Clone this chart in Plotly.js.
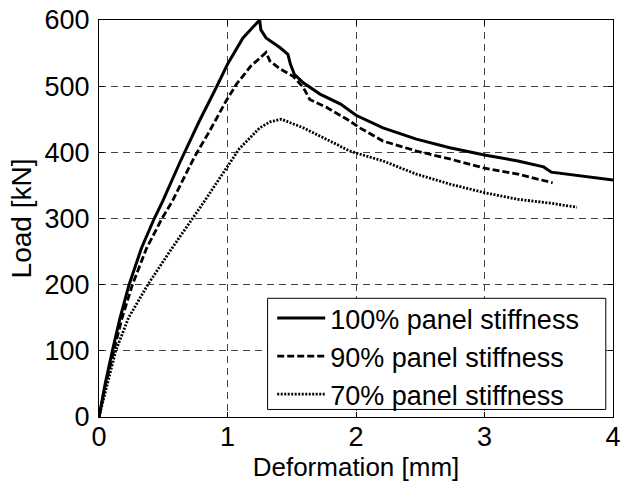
<!DOCTYPE html>
<html>
<head>
<meta charset="utf-8">
<script src="https://cdn.plot.ly/plotly-3.0.1.min.js"></script>
<style>html,body{margin:0;padding:0;background:#fff;}</style>
</head>
<body>
<div id="chart" style="width:621px;height:483px;"></div>
<script>
var seriesNames = ["100% panel stiffness", "90% panel stiffness", "70% panel stiffness"];

var x100 = [0, 0.05, 0.104, 0.164, 0.234, 0.33, 0.43, 0.495, 0.63, 0.78, 0.9, 1.0, 1.12, 1.2, 1.25, 1.26, 1.30, 1.41, 1.47, 1.49, 1.52, 1.59, 1.72, 1.88, 2.0, 2.21, 2.47, 2.73, 3.0, 3.26, 3.46, 3.52, 3.78, 4.0];
var y100 = [0, 52, 100, 150, 200, 255, 300, 326, 385, 447, 493, 533, 573, 590, 600, 585, 573, 558, 548, 533, 518, 505, 488, 473, 456, 437, 420, 407, 396, 387, 378, 370, 363, 358];

var x90 = [0, 0.05, 0.115, 0.18, 0.26, 0.37, 0.49, 0.57, 0.74, 0.86, 0.99, 1.07, 1.18, 1.28, 1.30, 1.33, 1.41, 1.51, 1.59, 1.64, 1.77, 1.93, 2.03, 2.21, 2.47, 2.73, 3.0, 3.26, 3.53];
var y90 = [0, 48, 100, 150, 200, 255, 300, 326, 392, 432, 478, 503, 530, 548, 551, 538, 526, 515, 498, 480, 468, 450, 437, 417, 402, 390, 376, 367, 354];

var x70 = [0, 0.05, 0.13, 0.23, 0.38, 0.55, 0.73, 0.82, 0.96, 1.09, 1.25, 1.33, 1.42, 1.59, 1.85, 1.95, 2.21, 2.47, 2.73, 3.0, 3.26, 3.52, 3.72];
var y70 = [0, 40, 100, 150, 200, 250, 300, 326, 367, 405, 437, 446, 450, 437, 412, 402, 387, 367, 352, 339, 329, 323, 317];

var xTicks = [0, 1, 2, 3, 4];
var yTicks = [0, 100, 200, 300, 400, 500, 600];

var FONT = "Liberation Sans, Arial, Helvetica, sans-serif";

var traces = [
  {x: x100, y: y100, name: seriesNames[0], type: "scatter", mode: "lines",
   line: {color: "#000", width: 3, dash: "solid"}},
  {x: x90, y: y90, name: seriesNames[1], type: "scatter", mode: "lines",
   line: {color: "#000", width: 2.8, dash: "7px,3px"}},
  {x: x70, y: y70, name: seriesNames[2], type: "scatter", mode: "lines",
   line: {color: "#000", width: 2.8, dash: "2px,1.5px"}}
];

var layout = {
  width: 621, height: 483,
  margin: {l: 99, r: 8, t: 20, b: 66, pad: 0},
  paper_bgcolor: "#fff", plot_bgcolor: "#fff",
  font: {family: FONT, size: 27, color: "#000"},
  showlegend: true,
  xaxis: {
    range: [0, 4], tickvals: xTicks, ticktext: xTicks.map(String),
    showgrid: true, gridcolor: "#444", gridwidth: 1, griddash: "7px,5px",
    zeroline: false, showline: true, linecolor: "#000", linewidth: 1,
    mirror: "ticks", ticks: "inside", ticklen: 5, tickcolor: "#000",
    ticklabelstandoff: -4,
    tickfont: {family: FONT, size: 27, color: "#000"},
    title: {text: "Deformation [mm]", font: {family: FONT, size: 26, color: "#000"}, standoff: 5}
  },
  yaxis: {
    range: [0, 600], tickvals: yTicks, ticktext: yTicks.map(String),
    showgrid: true, gridcolor: "#444", gridwidth: 1, griddash: "7px,5px",
    zeroline: false, showline: true, linecolor: "#000", linewidth: 1,
    mirror: "ticks", ticks: "inside", ticklen: 5, tickcolor: "#000",
    ticklabelstandoff: 3,
    tickfont: {family: FONT, size: 27, color: "#000"},
    title: {text: "Load [kN]", font: {family: FONT, size: 28, color: "#000"}, standoff: 4}
  },
  shapes: [{
    type: "rect", xref: "paper", yref: "paper",
    x0: 0.328, x1: 0.986, y0: 0.019, y1: 0.299,
    line: {color: "#000", width: 1}, fillcolor: "#fff", layer: "above"
  }],
  legend: {
    x: 0.337, y: 0.31, xanchor: "left", yanchor: "top",
    bgcolor: "rgba(0,0,0,0)", borderwidth: 0,
    font: {family: FONT, size: 27, color: "#000"},
    itemwidth: 48, tracegroupgap: 0
  }
};

Plotly.newPlot("chart", traces, layout, {displayModeBar: false, staticPlot: true});
</script>
</body>
</html>
